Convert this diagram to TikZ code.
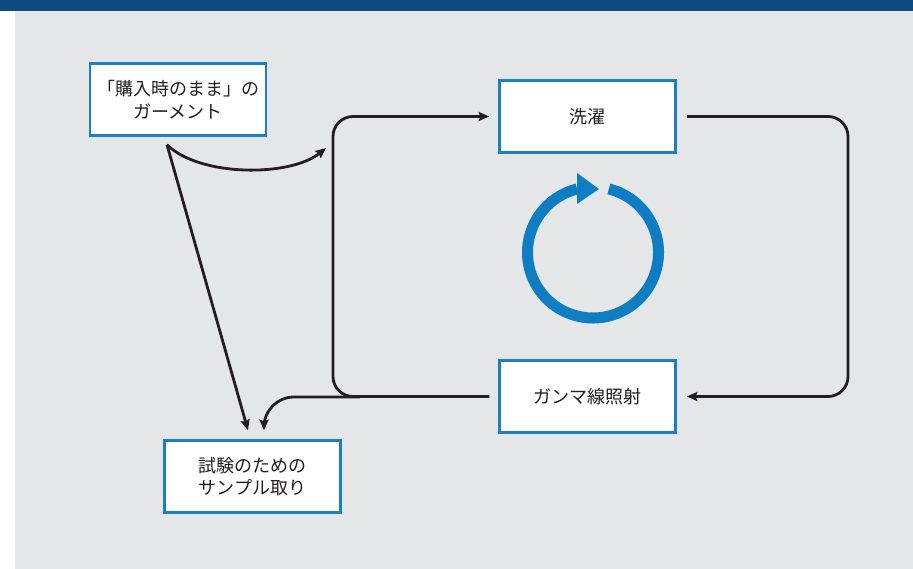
\documentclass[tikz,border=0pt]{standalone}
\usepackage{fontspec}
\newfontfamily\jp{Noto Sans CJK JP}
\usetikzlibrary{arrows.meta}
\definecolor{barblue}{HTML}{0D4A80}
\definecolor{panelgray}{HTML}{E5E6E8}
\definecolor{boxblue}{HTML}{1A80C6}
\definecolor{iconblue}{HTML}{0F7DC2}
\definecolor{ink}{HTML}{231F20}
\tikzset{
  stepbox/.style={draw=boxblue, line width=2.5pt, fill=white, minimum width=176pt, minimum height=72pt,
    inner sep=0pt, align=center, text=ink, font=\jp\fontsize{18}{22.5}\selectfont},
  arr/.style={draw=ink, line width=2.8pt, -{Stealth[length=10.5pt,width=9pt,inset=1.5pt]}},
  plain/.style={draw=ink, line width=2.8pt}
}
\begin{document}
\begin{tikzpicture}[x=1pt,y=-1pt]
\useasboundingbox (0,0) rectangle (913,569);
\fill[white] (0,0) rectangle (913,569);
\fill[panelgray] (15,11) rectangle (913,569);
\fill[barblue] (0,0) rectangle (913,11);

\node[stepbox] (garment) at (178,99.5) {「購入時のまま」の\\ガーメント};
\node[stepbox] (wash) at (587.5,116.5) {洗濯};
\node[stepbox] (gamma) at (587.5,396.5) {ガンマ線照射};
\node[stepbox] (sample) at (252.5,476.5) {試験のための\\サンプル取り};

\coordinate (rcol) at (848,250);
\coordinate (lcol) at (333,250);
\coordinate (bj) at (360,397);
\coordinate (cin) at (326,148);

% loop
\draw[arr, rounded corners=20pt] ([xshift=10pt]wash.east) -| (rcol) |- ([xshift=10pt]gamma.east);
\draw[arr, rounded corners=20pt] ([xshift=-9pt]gamma.west) -| (lcol) |- ([xshift=-9pt]wash.west);
% branch to sample
\draw[arr, rounded corners=30pt] (bj) -| ([xshift=11.5pt,yshift=9pt]sample.north);
% from garment
\draw[arr] ([xshift=-11pt,yshift=-8pt]garment.south) -- ([xshift=-4.5pt,yshift=9pt]sample.north);
\draw[arr] ([xshift=-11pt,yshift=-8pt]garment.south) .. controls (200,177) and (290,177) .. (cin);

% cycle icon
\coordinate (cc) at (593,252.5);
\draw[iconblue, line width=11pt] (cc) ++(-76:65.5) arc (-76:256:65.5);
\fill[iconblue] (577,173) -- (599,189) -- (577,204) -- cycle;
\end{tikzpicture}
\end{document}
